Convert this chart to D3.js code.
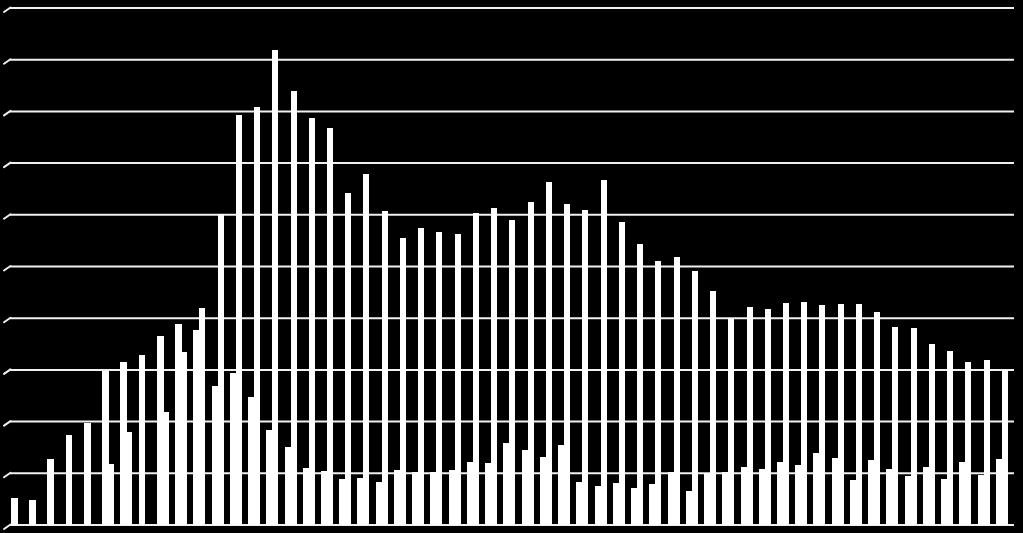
<!DOCTYPE html>
<html>
<head>
<meta charset="utf-8">
<script src="https://cdn.jsdelivr.net/npm/d3@7"></script>
<style>
  html, body { margin: 0; padding: 0; background: #000; }
  svg { display: block; }
</style>
</head>
<body>
<svg id="chart" width="1023" height="533"></svg>
<script>
// ---- data (arbitrary units; one gridline = 10) ----
const categories = Array.from({length: 55}, (_, i) => String(i + 1));
const seriesNames = ["A", "B"];
const seriesA = [5.1, 4.7, 12.7, 17.3, 19.6, 29.7, 31.4, 32.8, 36.5, 38.8,
                 37.6, 26.8, 29.3, 24.7, 18.3, 15.0, 10.9, 10.3, 8.8, 9.0,
                 8.2, 10.5, 10.2, 10.2, 10.5, 12.1, 11.9, 15.8, 14.4, 13.1,
                 15.4, 8.2, 7.4, 8.0, 7.1, 7.8, 10.2, 6.5, 10.0, 10.2,
                 11.1, 10.7, 12.1, 11.5, 13.8, 12.9, 8.6, 12.5, 10.7, 9.4,
                 11.1, 8.8, 12.1, 9.6, 12.7];
const seriesB = [0, 0, 0, 0, 0, 11.7, 17.9, 0, 21.8, 33.4,
                 41.9, 60.1, 79.2, 80.8, 91.8, 83.8, 78.6, 76.7, 64.1, 67.8,
                 60.6, 55.4, 57.4, 56.6, 56.2, 60.3, 61.2, 58.9, 62.4, 66.2,
                 62.0, 60.8, 66.6, 58.5, 54.3, 51.0, 51.7, 49.0, 45.2, 39.9,
                 42.1, 41.7, 42.8, 43.0, 42.5, 42.6, 42.6, 41.1, 38.2, 38.0,
                 34.9, 33.6, 31.4, 31.8, 29.9];
const tickValues = [0, 10, 20, 30, 40, 50, 60, 70, 80, 90, 100];
const tickLabels = ["", "", "", "", "", "", "", "", "", "", ""];

const rows = categories.map((c, i) => ({cat: c, A: seriesA[i], B: seriesB[i]}));

// ---- layout ----
const svg = d3.select("#chart");
const W = 1023, H = 533;
svg.append("rect").attr("width", W).attr("height", H).attr("fill", "#000");

const y = d3.scaleLinear().domain([0, 100]).range([524.5, 7.5]);
const x0 = d3.scaleBand().domain(categories).range([7.8, 1011.0])
  .paddingInner(0.34).paddingOuter(0.17);
const x1 = d3.scaleBand().domain(seriesNames).range([0, x0.bandwidth()]).padding(0);

const gridLeft = 10, gridRight = 1014, slantDx = 6, slantDy = 4.5;

// gridlines via axis
const axis = d3.axisLeft(y).tickValues(tickValues)
  .tickFormat((d, i) => tickLabels[i])
  .tickSize(-(gridRight - gridLeft)).tickPadding(0);
const g = svg.append("g").attr("transform", `translate(${gridLeft},0)`).call(axis);
g.select(".domain").remove();
g.selectAll(".tick line").attr("stroke", "#f0f0f0").attr("stroke-width", 2);
g.selectAll(".tick text").attr("fill", "#fff");

// slanted wall edges on the left of each gridline
svg.append("g").selectAll("line").data(tickValues).join("line")
  .attr("x1", gridLeft - slantDx).attr("y1", d => y(d) + slantDy)
  .attr("x2", gridLeft + 0.5).attr("y2", d => y(d))
  .attr("stroke", "#f0f0f0").attr("stroke-width", 2).attr("stroke-linecap", "round");

// bars (the two bars of a category touch, so the left one overlaps slightly)
const groups = svg.append("g").selectAll("g").data(rows).join("g")
  .attr("transform", d => `translate(${x0(d.cat)},0)`);
groups.selectAll("rect")
  .data(d => seriesNames.map(s => ({s, v: d[s]})).filter(e => e.v > 0))
  .join("rect")
  .attr("x", e => x1(e.s))
  .attr("y", e => y(e.v))
  .attr("width", e => x1.bandwidth() + (e.s === "A" ? 0.8 : 0))
  .attr("height", e => y(0) - y(e.v))
  .attr("fill", "#fff")
  .attr("shape-rendering", "crispEdges");
</script>
</body>
</html>
